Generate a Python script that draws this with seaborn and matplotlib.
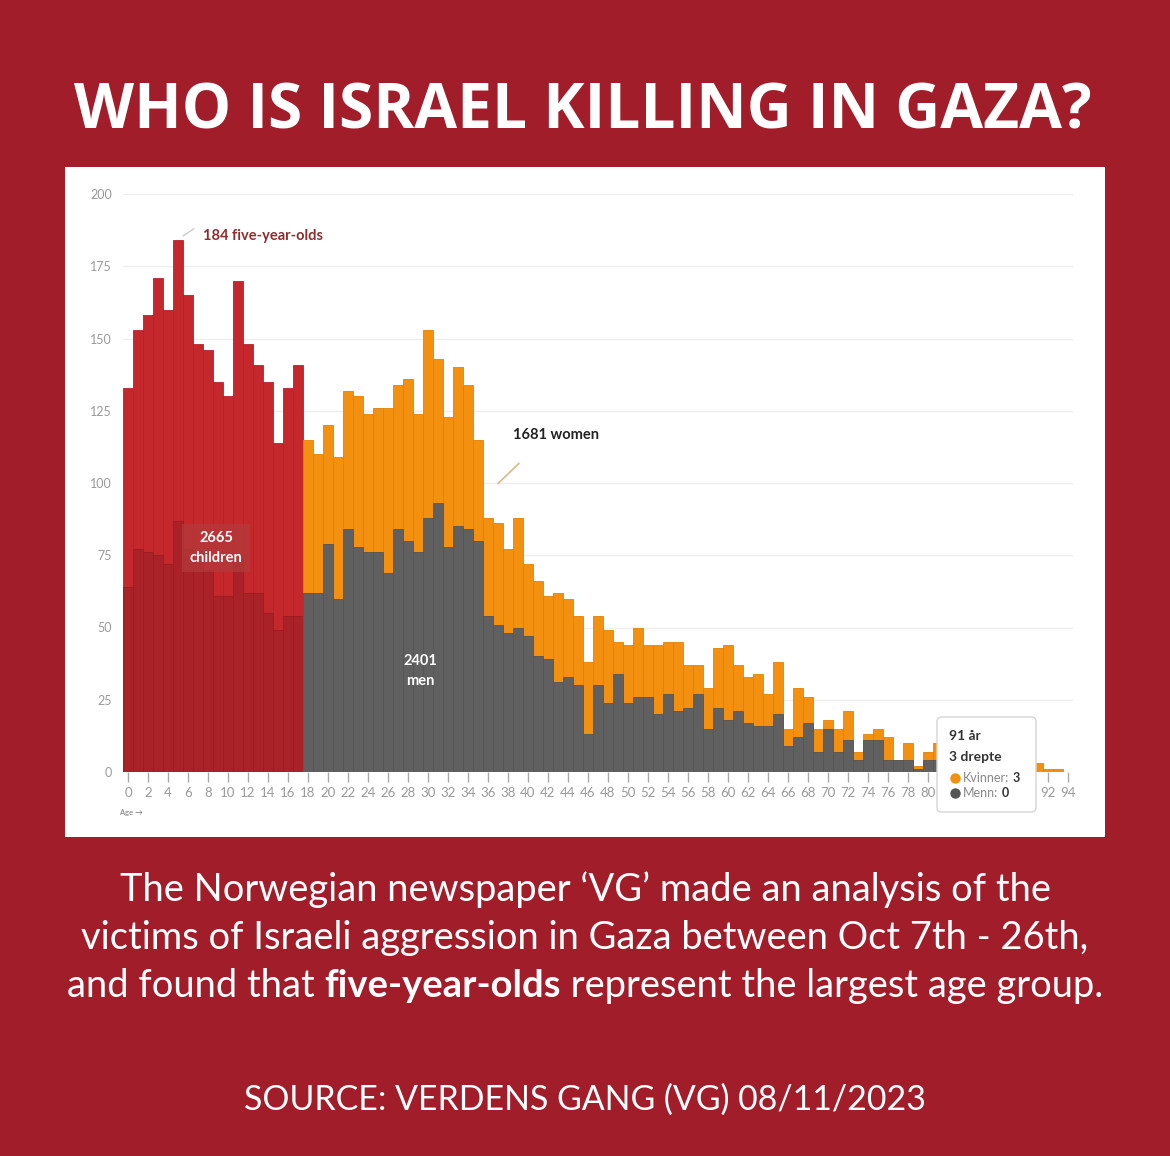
import numpy as np
import pandas as pd
import matplotlib
matplotlib.use("Agg")
import matplotlib.pyplot as plt
import seaborn as sns
from matplotlib.patches import Rectangle, FancyBboxPatch
from matplotlib.lines import Line2D

# ---------------- data ----------------
child_ages = list(range(0, 18))
child_total = [133, 153, 158, 171, 160, 184, 165, 148, 146, 135, 130, 170, 148, 141, 135, 114, 133, 141]
child_lower = [64, 77, 76, 75, 72, 87, 77, 73, 70, 61, 61, 74, 62, 62, 55, 49, 54, 54]

adult_ages = list(range(18, 95))
men = [62, 62, 79, 60, 84, 78, 76, 76, 69, 84, 80, 76,
       88, 93, 78, 85, 84, 80, 54, 51, 48, 50, 47, 40,
       39, 31, 33, 30, 13, 30, 24, 34, 24, 26, 26, 20,
       27, 21, 22, 27, 15, 22, 18, 21, 17, 16, 16, 20,
       9, 12, 17, 7, 15, 7, 11, 4, 11, 11, 4, 4,
       4, 1, 4, 4, 4, 4, 3, 2, 2, 2, 1, 1,
       1, 0, 0, 0, 0]
women = [53, 48, 41, 49, 48, 52, 48, 50, 57, 50, 56, 48,
         65, 50, 45, 55, 50, 35, 34, 35, 29, 38, 25, 26,
         22, 31, 27, 24, 25, 24, 25, 11, 20, 24, 18, 24,
         18, 24, 15, 10, 14, 21, 26, 16, 16, 18, 11, 18,
         6, 17, 9, 8, 3, 8, 10, 3, 2, 4, 8, 0,
         6, 1, 3, 6, 3, 2, 2, 2, 1, 1, 1, 1,
         0, 3, 1, 1, 0]

x_ticks = list(range(0, 95, 2))
hidden_tick_labels = [82, 84, 86, 88, 90]   # covered by the tooltip in the reference
y_ticks = [0, 25, 50, 75, 100, 125, 150, 175, 200]

title = "WHO IS ISRAEL KILLING IN GAZA?"
caption_lines = ["The Norwegian newspaper \u2018VG\u2019 made an analysis of the",
                 "victims of Israeli aggression in Gaza between Oct 7th - 26th,"]
caption_last = ["and found that ", "five-year-olds", " represent the largest age group."]
source = "SOURCE: VERDENS GANG (VG) 08/11/2023"

# ---------------- style ----------------
BG = "#A11D2A"
CHILD_LIGHT = "#C4282D"
CHILD_DARK = "#A82227"
ORANGE = "#F4900F"
GREY = "#606060"
TICK_COL = "#9A9A9A"

sns.set_theme(style="white")
plt.rcParams["font.family"] = ["Lato", "DejaVu Sans"]

W, H = 1170, 1156
fig = plt.figure(figsize=(W / 100, H / 100), dpi=100, facecolor=BG)

def fx(px):
    return px / W

def fy(py):
    return 1 - py / H

# white chart panel
fig.add_artist(Rectangle((fx(65), fy(837)), fx(1105) - fx(65), fy(167) - fy(837),
                         transform=fig.transFigure, facecolor="white", edgecolor="none", zorder=-10))

ax = fig.add_axes([fx(123), fy(772), fx(1073) - fx(123), fy(194) - fy(772)])
ax.patch.set_visible(False)

child_df = pd.DataFrame({"age": child_ages, "total": child_total, "lower": child_lower})
adult_df = pd.DataFrame({"age": adult_ages, "men": men, "women": women})
adult_df["total"] = adult_df["men"] + adult_df["women"]

common = dict(native_scale=True, width=1, saturation=1, errorbar=None, ax=ax, linewidth=0.6)
sns.barplot(data=child_df, x="age", y="total", color=CHILD_LIGHT, edgecolor="#B02328", **common)
sns.barplot(data=child_df, x="age", y="lower", color=CHILD_DARK, edgecolor="#981E22", **common)
sns.barplot(data=adult_df, x="age", y="total", color=ORANGE, edgecolor="#E08208", **common)
sns.barplot(data=adult_df, x="age", y="men", color=GREY, edgecolor="#555555", **common)

ax.set_xlim(-0.5, 94.5)
ax.set_ylim(0, 200)
ax.set_xlabel("")
ax.set_ylabel("")
ax.set_yticks(y_ticks)
ax.set_yticklabels([str(v) for v in y_ticks], fontsize=9, color=TICK_COL)
ax.set_xticks(x_ticks)
ax.set_xticklabels(["" if v in hidden_tick_labels else str(v) for v in x_ticks],
                   fontsize=9.5, color=TICK_COL)
ax.tick_params(axis="x", length=7, width=1, color="#AAAAAA", pad=4, direction="out", bottom=True)
ax.tick_params(axis="y", length=0, pad=8)
for s in ax.spines.values():
    s.set_visible(False)
ax.yaxis.grid(True, color="#EEEEEE", linewidth=1)
ax.xaxis.grid(False)
ax.set_axisbelow(True)

# annotations
ax.plot([5.5, 6.6], [185.5, 188.0], color="#CCCCCC", lw=1)
ax.text(7.5, 185.5, "184 five-year-olds", color="#8E2E2E", fontsize=10.5,
        fontweight="bold", ha="left", va="center")

ax.text(8.8, 77.5, "2665\nchildren", color="white", fontsize=10.5, fontweight="bold",
        ha="center", va="center", linespacing=1.5,
        bbox=dict(boxstyle="square,pad=0.5", facecolor="#B33A3A", edgecolor="none", alpha=0.75))

ax.plot([37.0, 39.1], [99.8, 106.8], color="#D9B98A", lw=1.2)
ax.text(42.8, 116.6, "1681 women", color="#222222", fontsize=10.5, fontweight="bold",
        ha="center", va="center")

ax.text(29.2, 35, "2401\nmen", color="white", fontsize=10.5, fontweight="bold",
        ha="center", va="center", linespacing=1.6)

fig.text(fx(120), fy(812), "Age \u2192", fontsize=5.5, color="#777777", ha="left", va="center")

renderer = fig.canvas.get_renderer()

# tooltip
fig.add_artist(FancyBboxPatch((fx(937), fy(812)), fx(1036) - fx(937), fy(717) - fy(812),
                              boxstyle="round,pad=0,rounding_size=0.004",
                              transform=fig.transFigure, facecolor="white",
                              edgecolor="#D5D5D5", linewidth=1, zorder=10))
fig.text(fx(949), fy(736), "91 år", fontsize=10, fontweight="bold", color="#333333",
         ha="left", va="center", zorder=11)
fig.text(fx(949), fy(757), "3 drepte", fontsize=10, fontweight="bold", color="#333333",
         ha="left", va="center", zorder=11)
fig.add_artist(Line2D([fx(955)], [fy(778)], marker="o", markersize=6.5, color=ORANGE,
                      transform=fig.transFigure, zorder=11))
fig.add_artist(Line2D([fx(955)], [fy(793)], marker="o", markersize=6.5, color="#555555",
                      transform=fig.transFigure, zorder=11))
for label, value, ypx in [("Kvinner:", "3", 778), ("Menn:", "0", 793)]:
    tl = fig.text(fx(963), fy(ypx), label, fontsize=9, color="#888888",
                  ha="left", va="center", zorder=11)
    wl = tl.get_window_extent(renderer).width
    fig.text(fx(963 + wl + 3), fy(ypx), value, fontsize=9, fontweight="bold",
             color="#333333", ha="left", va="center", zorder=11)

# ---------------- titles / captions ----------------
def fit(t, target):
    w = t.get_window_extent(renderer).width
    t.set_fontsize(t.get_fontsize() * target / w)

t_title = fig.text(0.5 * (fx(75) + fx(1090)), fy(112), title, color="white", fontsize=40,
                   fontweight="bold", ha="center", va="center", family=["Open Sans", "DejaVu Sans"])
fit(t_title, 1015)

cap_kw = dict(color="white", va="center", family=["Lato", "DejaVu Sans"], fontsize=22)
t1 = fig.text(fx(585), fy(890), caption_lines[0], ha="center", **cap_kw)
t2 = fig.text(fx(585), fy(938), caption_lines[1], ha="center", **cap_kw)

parts = []
for i, s in enumerate(caption_last):
    parts.append(fig.text(0, fy(986), s, ha="left",
                          fontweight=("bold" if i == 1 else "normal"), **cap_kw))
widths = [p.get_window_extent(renderer).width for p in parts]
scale = 1035 / sum(widths)
for p in parts + [t1, t2]:
    p.set_fontsize(p.get_fontsize() * scale)
widths = [p.get_window_extent(renderer).width for p in parts]
x0 = 585 - sum(widths) / 2
for p, w in zip(parts, widths):
    p.set_x(fx(x0))
    x0 += w

t_src = fig.text(fx(585), fy(1100), source, ha="center", **cap_kw)
fit(t_src, 680)

fig.savefig("out.png", dpi=100, facecolor=BG)
